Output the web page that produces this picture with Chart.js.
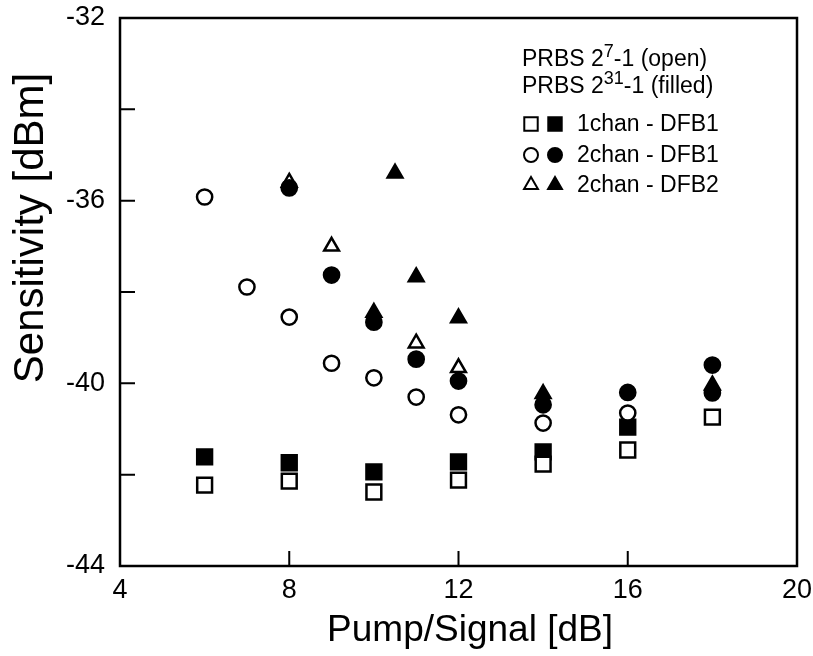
<!DOCTYPE html>
<html>
<head>
<meta charset="UTF-8" />
<title>Sensitivity vs Pump/Signal</title>
<script src="https://cdn.jsdelivr.net/npm/chart.js"></script>
<style>
  body { margin: 0; padding: 0; background: #ffffff; }
  #wrap { width: 813px; height: 656px; }
</style>
</head>
<body>
<div id="wrap"><canvas id="chart"></canvas></div>
<script>
// 1chan - DFB1
var sq7X  = [6, 8, 10, 12, 14, 16, 18];
var sq7Y  = [-42.23, -42.14, -42.38, -42.12, -41.77, -41.46, -40.74];
var sq31X = [6, 8, 10, 12, 14, 16];
var sq31Y = [-41.61, -41.74, -41.94, -41.72, -41.5, -40.96];
// 2chan - DFB1
var ci7X  = [6, 7, 8, 9, 10, 11, 12, 14, 16];
var ci7Y  = [-35.92, -37.89, -38.55, -39.56, -39.88, -40.3, -40.69, -40.87, -40.65];
var ci31X = [8, 9, 10, 11, 12, 14, 16, 18, 18];
var ci31Y = [-35.72, -37.63, -38.66, -39.47, -39.95, -40.47, -40.2, -39.6, -40.21];
// 2chan - DFB2
var tr7X  = [8, 9, 11, 12];
var tr7Y  = [-35.6, -37.0, -39.12, -39.66];
var tr31X = [10.5, 11, 10, 12, 14, 18];
var tr31Y = [-35.4, -37.67, -38.45, -38.57, -40.23, -40.04];

var xTicks = [4, 8, 12, 16, 20];
var yTicks = [-44, -40, -36, -32];
var xTitle = "Pump/Signal [dB]";
var yTitle = "Sensitivity [dBm]";

var FONT = "'Liberation Sans', Arial, Helvetica, sans-serif";
Chart.defaults.font.family = FONT;
Chart.defaults.font.size = 27;
Chart.defaults.color = "#000000";

function pts(xs, ys) {
    return xs.map(function (v, i) { return { x: v, y: ys[i] }; });
}

function ds(label, xs, ys, style, radius, filled, order) {
    return {
        label: label,
        data: pts(xs, ys),
        pointStyle: style,
        pointRadius: radius,
        pointHoverRadius: radius,
        pointBorderWidth: 2.5,
        pointBorderColor: "#000000",
        pointBackgroundColor: filled ? "#000000" : "#ffffff",
        order: order,
    };
}

// frame + inward ticks
var framePlugin = {
    id: "frame",
    beforeDatasetsDraw: function (chart) {
        var ctx = chart.ctx, a = chart.chartArea;
        var xs = chart.scales.x, ys = chart.scales.y;
        ctx.save();
        ctx.strokeStyle = "#000000";
        ctx.lineWidth = 2.5;
        ctx.strokeRect(a.left, a.top, a.right - a.left, a.bottom - a.top);
        ctx.lineWidth = 2;
        ctx.beginPath();
        xs.ticks.forEach(function (t) {
            var px = xs.getPixelForValue(t.value);
            if (px > a.left + 2 && px < a.right - 2) {
                ctx.moveTo(px, a.bottom);
                ctx.lineTo(px, a.bottom - 15);
            }
        });
        ys.ticks.forEach(function (t) {
            var py = ys.getPixelForValue(t.value);
            if (py > a.top + 2 && py < a.bottom - 2) {
                ctx.moveTo(a.left, py);
                ctx.lineTo(a.left + 15, py);
            }
        });
        ctx.stroke();

        // axis titles
        ctx.fillStyle = "#000000";
        ctx.textAlign = "center";
        ctx.textBaseline = "middle";
        ctx.font = "37px " + FONT;
        ctx.fillText(xTitle, 470, 631);
        ctx.translate(31, 228);
        ctx.rotate(-Math.PI / 2);
        ctx.font = "42px " + FONT;
        ctx.fillText(yTitle, 0, 0);
        ctx.restore();
    },
};

// text key in the upper right
var keyPlugin = {
    id: "key",
    afterDraw: function (chart) {
        var ctx = chart.ctx;
        var x0 = 522, fs = 23;
        ctx.save();
        ctx.fillStyle = "#000000";
        ctx.textBaseline = "alphabetic";
        ctx.textAlign = "left";

        function supLine(pre, sup, post, y) {
            ctx.font = fs + "px " + FONT;
            ctx.fillText(pre, x0, y);
            var w = ctx.measureText(pre).width;
            ctx.font = "18px " + FONT;
            ctx.fillText(sup, x0 + w, y - 9);
            var w2 = ctx.measureText(sup).width;
            ctx.font = fs + "px " + FONT;
            ctx.fillText(post, x0 + w + w2, y);
        }
        supLine("PRBS 2", "7", "-1 (open)", 66);
        supLine("PRBS 2", "31", "-1 (filled)", 93);

        var rows = [
            ["rect", 9.5, "1chan - DFB1", 124],
            ["circle", 7, "2chan - DFB1", 155],
            ["triangle", 8, "2chan - DFB2", 185],
        ];
        rows.forEach(function (r) {
            var opt = { pointStyle: r[0], radius: r[1], borderWidth: 2, rotation: 0 };
            ctx.lineWidth = 2;
            ctx.strokeStyle = "#000000";
            ctx.fillStyle = "#ffffff";
            Chart.helpers.drawPoint(ctx, opt, 531, r[3]);
            ctx.fillStyle = "#000000";
            Chart.helpers.drawPoint(ctx, opt, 555, r[3]);
            ctx.font = fs + "px " + FONT;
            ctx.textBaseline = "middle";
            ctx.fillText(r[2], 577, r[3] + 1);
        });
        ctx.restore();
    },
};

var config = {
    type: "scatter",
    data: {
        datasets: [
            ds("1chan - DFB1 (2^7-1)", sq7X, sq7Y, "rect", 10.5, false, 0),
            ds("2chan - DFB1 (2^7-1)", ci7X, ci7Y, "circle", 7.6, false, 1),
            ds("2chan - DFB2 (2^31-1)", tr31X, tr31Y, "triangle", 8.5, true, 2),
            ds("2chan - DFB1 (2^31-1)", ci31X, ci31Y, "circle", 7.6, true, 3),
            ds("2chan - DFB2 (2^7-1)", tr7X, tr7Y, "triangle", 8.5, false, 4),
            ds("1chan - DFB1 (2^31-1)", sq31X, sq31Y, "rect", 10.5, true, 5),
        ],
    },
    options: {
        responsive: false,
        animation: false,
        layout: { padding: { top: 18, right: 16, left: 0, bottom: 0 } },
        plugins: {
            legend: { display: false },
            tooltip: { enabled: false },
        },
        scales: {
            x: {
                type: "linear",
                min: 4,
                max: 20,
                afterBuildTicks: function (s) { s.ticks = xTicks.map(function (v) { return { value: v }; }); },
                afterFit: function (s) { s.height = 90; s.paddingLeft = 0; s.paddingRight = 0; },
                grid: { display: false, drawTicks: false },
                border: { display: false },
                ticks: { color: "#000000", padding: 8, font: { family: FONT, size: 27 } },
            },
            y: {
                type: "linear",
                min: -44,
                max: -32,
                afterBuildTicks: function (s) {
                    var t = [];
                    for (var v = -44; v <= -32; v += 2) t.push({ value: v });
                    s.ticks = t;
                },
                afterFit: function (s) { s.width = 120; s.paddingTop = 0; s.paddingBottom = 0; },
                grid: { display: false, drawTicks: false },
                border: { display: false },
                ticks: {
                    color: "#000000",
                    padding: 15,
                    font: { family: FONT, size: 27 },
                    callback: function (v) { return yTicks.indexOf(v) >= 0 ? String(v) : ""; },
                },
            },
        },
    },
    plugins: [framePlugin, keyPlugin],
};

var canvas = document.getElementById("chart");
canvas.width = 813;
canvas.height = 656;
new Chart(canvas, config);
</script>
</body>
</html>
